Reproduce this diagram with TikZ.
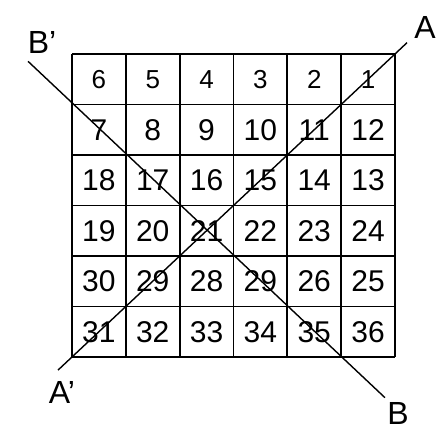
\documentclass[tikz,border=0pt]{standalone}
\usepackage{fontspec}
\setmainfont{Liberation Sans}
\begin{document}
\begin{tikzpicture}[x=1pt,y=-1pt,
  gridline/.style={line width=1.8pt},
  diag/.style={line width=1.4pt},
  num/.style={font=\fontsize{30}{30}\selectfont, inner sep=0pt},
  numtop/.style={font=\fontsize{26}{26}\selectfont, inner sep=0pt},
  lab/.style={font=\fontsize{32}{32}\selectfont, inner sep=0pt}]
\useasboundingbox (0,0) rectangle (437,432);
\def\xa{72}\def\cw{53.833}
\def\ya{54}\def\rh{50.5}
% grid
\foreach \i in {0,...,6}{
  \draw[gridline] (\xa+\i*\cw,\ya) -- (\xa+\i*\cw,\ya+6*\rh);
  \draw[gridline] (\xa,\ya+\i*\rh) -- (\xa+6*\cw,\ya+\i*\rh);
}
% numbers
\foreach \t [count=\k from 0] in {6,5,4,3,2,1}
  \node[numtop] (n\k) at (\xa+\k*\cw+0.5*\cw,\ya+0.5*\rh) {\t};
\foreach \t [count=\k from 0] in {7,8,9,10,11,12}
  \node[num] (m\k) at (\xa+\k*\cw+0.5*\cw,\ya+1.5*\rh) {\t};
\foreach \t [count=\k from 0] in {18,17,16,15,14,13}
  \node[num] (p\k) at (\xa+\k*\cw+0.5*\cw,\ya+2.5*\rh) {\t};
\foreach \t [count=\k from 0] in {19,20,21,22,23,24}
  \node[num] (q\k) at (\xa+\k*\cw+0.5*\cw,\ya+3.5*\rh) {\t};
\foreach \t [count=\k from 0] in {30,29,28,29,26,25}
  \node[num] (r\k) at (\xa+\k*\cw+0.5*\cw,\ya+4.5*\rh) {\t};
\foreach \t [count=\k from 0] in {31,32,33,34,35,36}
  \node[num] (s\k) at (\xa+\k*\cw+0.5*\cw,\ya+5.5*\rh) {\t};
% diagonals
\coordinate (Aend) at (407,42.7);
\coordinate (Apend) at (58,370.1);
\coordinate (Bpend) at (28,61.3);
\coordinate (Bend) at (385,397.7);
\draw[diag] (Aend) -- (Apend);
\draw[diag] (Bpend) -- (Bend);
% labels
\node[lab] (A) at (425,27) {A};
\node[lab] (Ap) at (62,392) {A'};
\node[lab] (Bp) at (42,42) {B'};
\node[lab] (B) at (398,413) {B};
\end{tikzpicture}
\end{document}
